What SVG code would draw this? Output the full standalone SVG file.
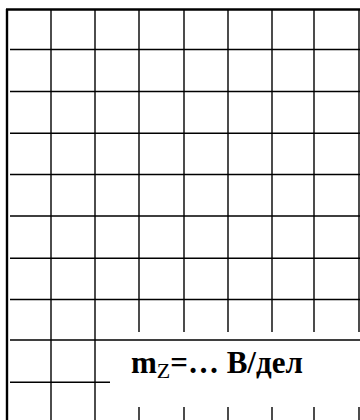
<svg xmlns="http://www.w3.org/2000/svg" width="360" height="420" viewBox="0 0 360 420">
<style>
.g{stroke:#000;stroke-width:1.4;fill:none}
.b{stroke:#000;stroke-width:2.4;fill:none}
.t{font-family:"Liberation Serif","Times New Roman",serif;font-weight:bold;font-size:31px;fill:#000}
</style>
<rect width="360" height="420" fill="#fff"/>
<g id="grid">
<line class="b" x1="7" y1="9" x2="7" y2="420"/>
<line class="b" x1="6" y1="9.5" x2="360" y2="9.5"/>
<line class="g" x1="51" y1="9" x2="51" y2="420"/>
<line class="g" x1="95" y1="9" x2="95" y2="420"/>
<path class="g" d="M139 9V332M184 9V332M228 9V332M272 9V332M314 9V332M359 9V332"/>
<path class="g" d="M139 407V420M184 407V420M228 407V420M272 407V420M314 407V420M359 407V420"/>
<path class="g" d="M10 49.5H360M10 91.5H360M10 133.3H360M10 174.5H360M10 216H360M10 258.3H360M10 299.5H360M10 340H360M10 382.3H110"/>
</g>
<g id="label">
<text class="t" x="131" y="373">m<tspan font-size="22" font-weight="normal" dy="5">Z</tspan><tspan dy="-5">=… В/дел</tspan></text>
</g>
</svg>
